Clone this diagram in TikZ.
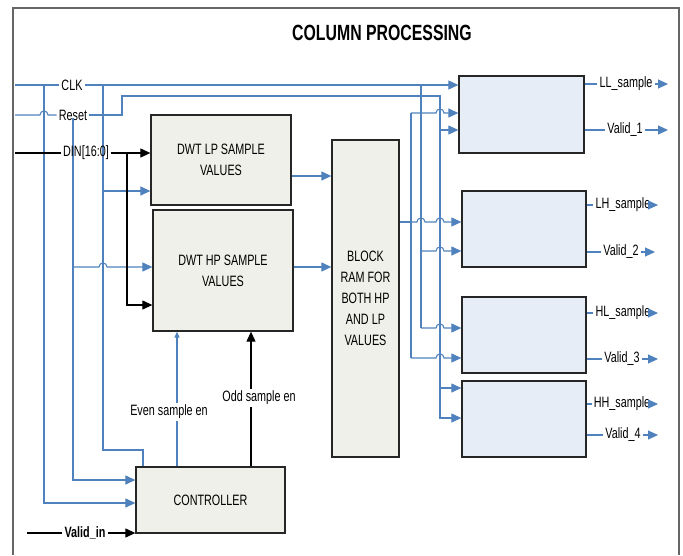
\documentclass[tikz,border=0pt]{standalone}
\usepackage{fontspec}
\setmainfont[FakeStretch=0.72]{Liberation Sans}
\usetikzlibrary{arrows.meta}
\definecolor{lineblue}{RGB}{79,129,189}
\definecolor{grayfill}{RGB}{239,240,233}
\definecolor{bluefill}{RGB}{230,237,247}
\begin{document}
\begin{tikzpicture}[x=1pt,y=-1pt,
  bl/.style={draw=lineblue,line width=1.1pt},
  blk/.style={draw=black,line width=1.1pt},
  tip/.style={-{Triangle[length=10pt,width=9pt]},lineblue},
  btip/.style={-{Triangle[length=10pt,width=9pt]},black},
  stip/.style={-{Triangle[length=6pt,width=5pt]},lineblue},
  lbl/.style={font=\fontsize{15}{18}\selectfont,inner sep=2pt},
  graybox/.style={draw=black!85,line width=1.3pt,fill=grayfill,inner sep=0pt,align=center,font=\fontsize{15}{21}\selectfont},
  bluebox/.style={draw=black!85,line width=1.3pt,fill=bluefill,inner sep=0pt}]
\useasboundingbox (0,0) rectangle (683,555);
% frame
\draw[black!60,line width=1.5pt] (13,555) -- (13,8) -- (679,8) -- (679,555);
\node[font=\bfseries\fontsize{22}{26}\selectfont] (title) at (382,33) {COLUMN PROCESSING};
% boxes
\node[graybox,minimum width=140pt,minimum height=90pt] (lp) at (221,160) {DWT LP SAMPLE\\VALUES};
\node[graybox,minimum width=140pt,minimum height=121pt] (hp) at (223,270.5) {DWT HP SAMPLE\\VALUES};
\node[graybox,minimum width=67pt,minimum height=317pt] (bram) at (365.5,298.5) {BLOCK\\RAM FOR\\BOTH HP\\AND LP\\VALUES};
\node[graybox,minimum width=149pt,minimum height=66pt] (ctrl) at (210.5,500) {CONTROLLER};
\node[bluebox,minimum width=125pt,minimum height=77pt] (b1) at (521.5,114.5) {};
\node[bluebox,minimum width=124pt,minimum height=76pt] (b2) at (524,229) {};
\node[bluebox,minimum width=124pt,minimum height=76pt] (b3) at (524,335) {};
\node[bluebox,minimum width=124pt,minimum height=76pt] (b4) at (524,419) {};
% CLK
\coordinate (clkS) at (15,85);
\node[lbl] (clk) at (72,85) {CLK};
\draw[bl] (clkS) -- (clk.west);
\draw[bl,tip] (clk.east) -- (b1.west |- clk.east);
\draw[bl,tip] (44,85) -- (44,503) -- (ctrl.west |- 0,503);
\draw[bl] (103,85) -- (103,450) -- (143,450) -- (ctrl.north -| 143,0);
\draw[bl,tip] (103,191) -- (lp.west |- 0,191);
\draw[bl] (421,85) -- (421,328);
\draw[bl,tip] (421,251) -- (436,251) .. controls (436,245.7) and (444,245.7) .. (444,251) -- (b2.west |- 0,251);
\draw[bl,tip] (421,328) -- (436,328) .. controls (436,322.7) and (444,322.7) .. (444,328) -- (b3.west |- 0,328);
% Reset
\coordinate (rstS) at (15,115);
\node[lbl] (rst) at (73,115) {Reset};
\draw[bl] (rstS) -- (40,115) .. controls (40,109.7) and (48,109.7) .. (48,115) -- (rst.west);
\draw[bl] (rst.east) -- (122,115) -- (122,96) -- (440,96) -- (440,388);
\draw[bl,tip] (440,388) -- (440,418) -- (b4.west |- 0,418);
\draw[bl,tip] (440,388) -- (b4.west |- 0,388);
\draw[bl,tip] (440,130) -- (b1.west |- 0,130);
\draw[bl,tip] (73,118) -- (73,480) -- (ctrl.west |- 0,480);
\draw[bl,tip] (73,267) -- (99,267) .. controls (99,261.7) and (107,261.7) .. (107,267) -- (hp.west |- 0,267);
% DIN
\coordinate (dinS) at (15,153);
\node[lbl] (din) at (86,153) {DIN[16:0]};
\draw[blk] (dinS) -- (din.west);
\draw[blk,btip] (din.east) -- (lp.west |- din.east);
\draw[blk,btip] (127,153) -- (127,305) -- (hp.west |- 0,305);
% to BRAM
\draw[bl,tip] (lp.east |- 0,176) -- (bram.west |- 0,176);
\draw[bl,tip] (hp.east |- 0,267) -- (bram.west |- 0,267);
% data bus
\draw[bl] (bram.east |- 0,222) -- (411,222);
\draw[bl] (411,113) -- (411,358);
\draw[bl,tip] (411,222) -- (417,222) .. controls (417,216.7) and (425,216.7) .. (425,222) -- (436,222) .. controls (436,216.7) and (444,216.7) .. (444,222) -- (b2.west |- 0,222);
\draw[bl,tip] (411,113) -- (436,113) .. controls (436,107.7) and (444,107.7) .. (444,113) -- (b1.west |- 0,113);
\draw[bl,tip] (411,358) -- (436,358) .. controls (436,352.7) and (444,352.7) .. (444,358) -- (b3.west |- 0,358);
% controller enables
\draw[bl,stip] (ctrl.north -| 177,0) -- (hp.south -| 177,0);
\node[lbl,fill=white] (even) at (169,412) {Even sample en};
\draw[blk,btip] (ctrl.north -| 251,0) -- (hp.south -| 251,0);
\node[lbl,fill=white] (odd) at (259,398) {Odd sample en};
% Valid_in
\coordinate (vinS) at (27,533);
\node[lbl,font=\bfseries\fontsize{15}{18}\selectfont] (vin) at (85,533) {Valid\_in};
\draw[blk] (vinS) -- (vin.west);
\draw[blk,btip] (vin.east) -- (ctrl.west |- 0,533);
% outputs
\node[lbl] (ll) at (626,84) {LL\_sample};
\coordinate (llE) at (668,84);
\draw[bl] (b1.east |- ll.west) -- (ll.west);
\draw[bl,tip] (ll.east) -- (llE);
\node[lbl] (v1) at (625,130) {Valid\_1};
\coordinate (v1E) at (668,130);
\draw[bl] (b1.east |- v1.west) -- (v1.west);
\draw[bl,tip] (v1.east) -- (v1E);
\node[lbl] (lh) at (623,205) {LH\_sample};
\coordinate (lhE) at (658,205);
\draw[bl] (b2.east |- lh.west) -- (lh.west);
\draw[bl,tip] (lh.east) -- (lhE);
\node[lbl] (v2) at (621,252) {Valid\_2};
\coordinate (v2E) at (655,252);
\draw[bl] (b2.east |- v2.west) -- (v2.west);
\draw[bl,tip] (v2.east) -- (v2E);
\node[lbl] (hl) at (623,313) {HL\_sample};
\coordinate (hlE) at (658,313);
\draw[bl] (b3.east |- hl.west) -- (hl.west);
\draw[bl,tip] (hl.east) -- (hlE);
\node[lbl] (v3) at (622,359) {Valid\_3};
\coordinate (v3E) at (658,359);
\draw[bl] (b3.east |- v3.west) -- (v3.west);
\draw[bl,tip] (v3.east) -- (v3E);
\node[lbl] (hh) at (622,404) {HH\_sample};
\coordinate (hhE) at (658,404);
\draw[bl] (b4.east |- hh.west) -- (hh.west);
\draw[bl,tip] (hh.east) -- (hhE);
\node[lbl] (v4) at (623,435) {Valid\_4};
\coordinate (v4E) at (658,435);
\draw[bl] (b4.east |- v4.west) -- (v4.west);
\draw[bl,tip] (v4.east) -- (v4E);
\end{tikzpicture}
\end{document}
